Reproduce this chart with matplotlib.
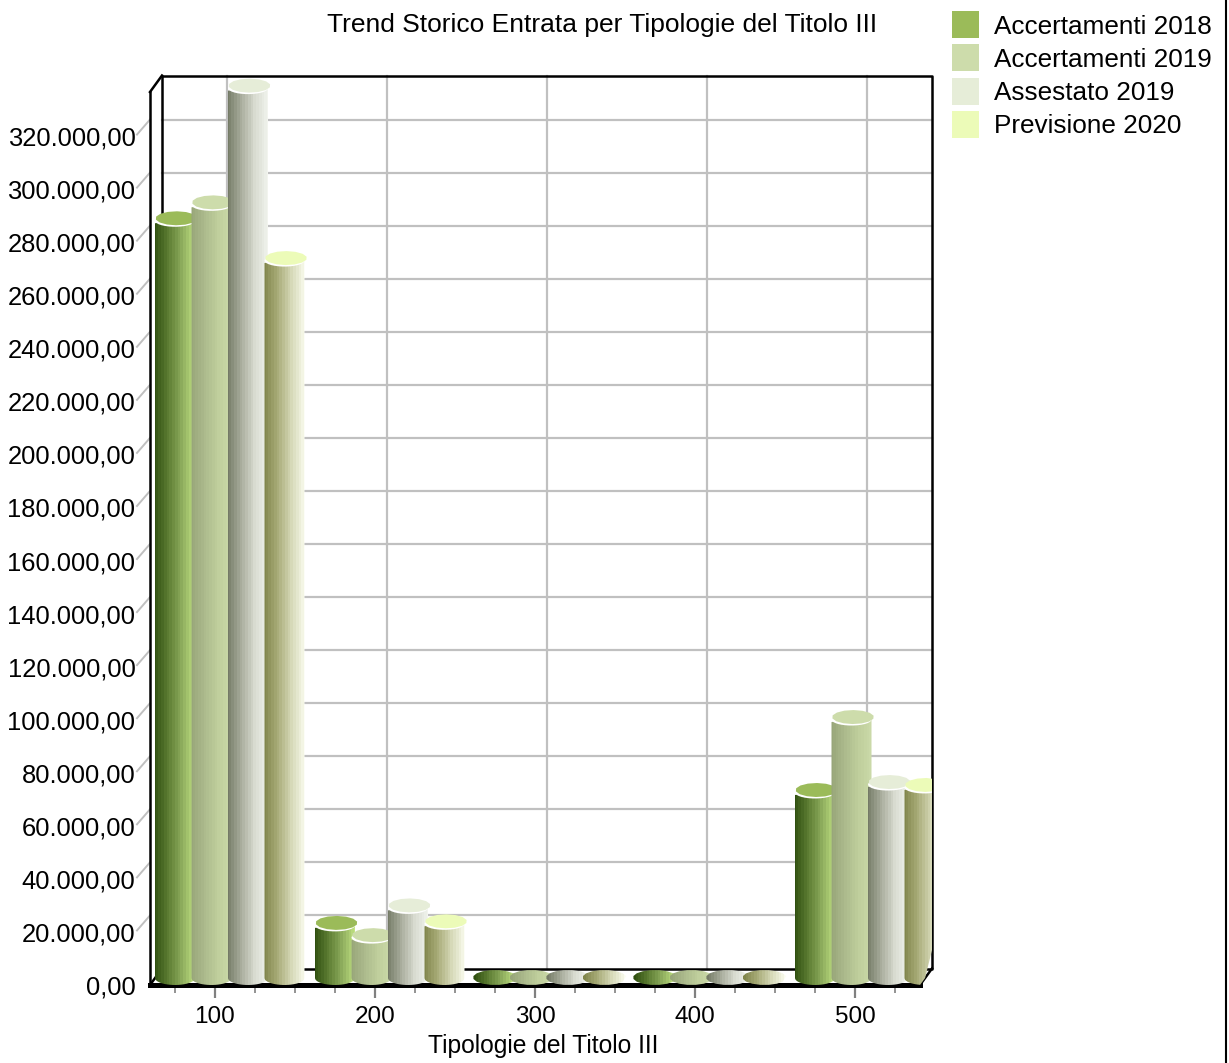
import numpy as np
import matplotlib
matplotlib.use('Agg')
import matplotlib.pyplot as plt
from matplotlib.colors import LinearSegmentedColormap
from matplotlib.patches import Rectangle, Polygon
from matplotlib.path import Path
from matplotlib.lines import Line2D
from matplotlib.transforms import Affine2D
from matplotlib.ticker import FuncFormatter

plt.rcParams['font.family'] = ['Liberation Sans', 'DejaVu Sans']

# ---- data ----
categories = ['100', '200', '300', '400', '500']
series_names = ['Accertamenti 2018', 'Accertamenti 2019', 'Assestato 2019', 'Previsione 2020']
acc_2018 = [289000, 23400, 2500, 2500, 73500]
acc_2019 = [295000, 18800, 2500, 2500, 101000]
ass_2019 = [339000, 30000, 2500, 2500, 76500]
prev_2020 = [274000, 24000, 2500, 2500, 75400]
series_values = [acc_2018, acc_2019, ass_2019, prev_2020]
y_ticks = list(range(0, 340000, 20000))

title = 'Trend Storico Entrata per Tipologie del Titolo III'
xlabel = 'Tipologie del Titolo III'
top_colors = ['#9bbb59', '#cddcab', '#e6edd8', '#ecfbb8']
ramps = [['#2f4f10', '#5c7c32', '#8cab5c', '#c4e584'],
         ['#98a67a', '#adbb8d', '#c0cf9d', '#cddcab'],
         ['#747a66', '#a8ac9c', '#d8dbd0', '#f2f4ee'],
         ['#81864c', '#a9ad7a', '#d6d9b8', '#fbfdf0']]

# ---- pixel geometry ----
W, H = 1229, 1063
L, R, B, T = 150, 920, 985, 92
DX, DY = 12, 16.5
PX_Y = 20000 / 53.06      # value units per pixel
PX_X = 1 / 160.0          # category units per pixel

fig = plt.figure(figsize=(W / 100, H / 100), dpi=100, facecolor='white')
ax = fig.add_axes([L / W, 1 - B / H, (R - L) / W, (B - T) / H])
xmin, xmax = -65 * PX_X, -65 * PX_X + (R - L) * PX_X
ymin, ymax = 0, (B - T) * PX_Y
ax.set_xlim(xmin, xmax)
ax.set_ylim(ymin, ymax)
ax.patch.set_visible(False)
for s in ax.spines.values():
    s.set_visible(False)

back = ax.transData + Affine2D().translate(DX, DY)
dxd, dyd = DX * PX_X, DY * PX_Y

# back wall grid
for v in y_ticks[1:]:
    ax.plot([xmin, xmax], [v, v], transform=back, color='#c0c0c0', lw=1.6, clip_on=False, zorder=1)
    ax.plot([xmin - 13 * PX_X, xmin], [v + dyd - 15 * PX_Y, v + dyd],
            color='#c0c0c0', lw=1.4, clip_on=False, zorder=1)
for i in range(len(categories)):
    ax.plot([i, i], [ymin, ymax], transform=back, color='#c0c0c0', lw=1.6, clip_on=False, zorder=1)

# frame
fk = dict(color='black', clip_on=False, zorder=2, solid_capstyle='projecting')
ax.plot([xmin, xmin, xmax, xmax, xmin], [ymin, ymax, ymax, ymin, ymin], transform=back, lw=1.8, **fk)
ax.plot([xmin, xmin], [ymin, ymax], lw=1.8, **fk)
ax.plot([xmin, xmin + dxd], [ymax, ymax + dyd], lw=1.8, **fk)
ax.plot([xmin, xmin + dxd], [ymin, ymin + dyd], lw=1.8, **fk)
ax.plot([xmax, xmax + dxd], [ymin, ymin + dyd], lw=1.8, **fk)
ax.plot([xmin, xmax], [ymin, ymin], lw=3.6, zorder=2.5, color='black', clip_on=False)


def clamp(pts):
    """keep vertices inside the 3D box outline"""
    pts = np.asarray(pts, dtype=float).copy()
    lim = xmax + dxd * np.clip((pts[:, 1] - ymin) / dyd, 0, 1)
    pts[:, 0] = np.minimum(pts[:, 0], lim)
    pts[:, 1] = np.minimum(pts[:, 1], ymax + dyd)
    return pts


def lozenge(cx, cy, w, h, n=14):
    t = np.linspace(0, 2 * np.pi, n, endpoint=False) + 0.2
    return np.column_stack([cx + w / 2 * np.cos(t), cy + h / 2 * np.sin(t)])


# cylinders
bar_w = 40 * PX_X
step = 36.5 * PX_X
first = -60 * PX_X
base_c = 7 * PX_Y
grad = np.linspace(0, 1, 16)[None, :]
for s, vals in enumerate(series_values):
    cmap = LinearSegmentedColormap.from_list('r%d' % s, ramps[s], N=16)
    for i, v in enumerate(vals):
        x0 = i + first + s * step
        xc = x0 + bar_w / 2
        z = 3 + s + 0.1 * i
        if v < 14 * PX_Y:
            # very short bar: only the gradient lozenge is visible
            outline = lozenge(xc, base_c + 0.5 * PX_Y, bar_w + 4 * PX_X, 15 * PX_Y, 16)
            top = 16 * PX_Y
        else:
            ax.add_patch(Polygon(clamp(lozenge(xc, v - 2.5 * PX_Y, bar_w, 12 * PX_Y, 30)), closed=True,
                                 fc='white', ec='none', zorder=z + .01, clip_on=False))
            ax.add_patch(Polygon(clamp(lozenge(xc + 1.5 * PX_X, v, bar_w + 2 * PX_X, 14 * PX_Y)), closed=True,
                                 fc=top_colors[s], ec='none', zorder=z + .02, clip_on=False))
            # body: rounded bottom, slanted top hidden under the cap
            t = np.linspace(np.pi, 2 * np.pi, 24)
            bottom = np.column_stack([xc + bar_w / 2 * np.cos(t), base_c + 7 * PX_Y * np.sin(t)])
            top = v + 2 * PX_Y
            side = np.column_stack([np.full(8, x0 + bar_w), np.linspace(base_c, top, 8)])
            outline = clamp(np.vstack([bottom, side, [[x0, v - 5 * PX_Y]], bottom[:1]]))
        im = ax.imshow(grad, cmap=cmap, aspect='auto',
                       extent=[x0 - 2 * PX_X, x0 + bar_w + 2 * PX_X, -2 * PX_Y, top],
                       interpolation='nearest', zorder=z)
        im.set_clip_box(fig.bbox)
        im.set_clip_path(Path(outline, closed=True), ax.transData)
ax.set_xlim(xmin, xmax)
ax.set_ylim(ymin, ymax)

# ticks and labels
ax.set_xticks(range(len(categories)), categories, fontsize=17.5)
ax.set_xticks([i / 4 for i in range(-1, 18)], minor=True)
ax.tick_params(axis='x', which='major', length=9.4, width=1.6, color='#808080', pad=6)
ax.tick_params(axis='x', which='minor', length=5.8, width=1.2, color='#808080')
ax.set_yticks(y_ticks)
ax.yaxis.set_major_formatter(FuncFormatter(
    lambda v, p: f'{v:,.2f}'.replace(',', 'X').replace('.', ',').replace('X', '.')))
ax.tick_params(axis='y', length=0, pad=10.5, labelsize=18.4)
fig.text(543 / W, 1 - 1046 / H, xlabel, ha='center', va='center', fontsize=17.7)
fig.text(602 / W, 1 - 25 / H, title, ha='center', va='center', fontsize=19)

# legend
for k, name in enumerate(series_names):
    yc = 24.5 + k * 33.3
    fig.patches.append(Rectangle((952 / W, 1 - (yc + 13.5) / H), 27 / W, 27 / H, transform=fig.transFigure,
                                 fc=top_colors[k], ec='none'))
    fig.text(994 / W, 1 - (yc + 2) / H, name, ha='left', va='center', fontsize=18.8)

# outer border on the right edge
fig.add_artist(Line2D([1225.5 / W, 1225.5 / W], [0, 1], color='black', lw=1.5, transform=fig.transFigure))

fig.savefig('out.png', dpi=100)
